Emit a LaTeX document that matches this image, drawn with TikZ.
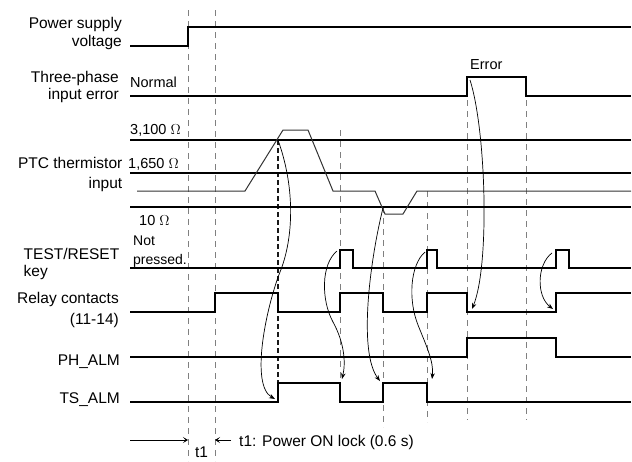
\documentclass[tikz,border=0pt]{standalone}
\usepackage{fontspec}
\setmainfont{Liberation Sans}
\usetikzlibrary{arrows.meta}

\begin{document}
\begin{tikzpicture}[x=1pt, y=-1pt,
    sig/.style={line width=1.6pt, line join=miter},
    thinsig/.style={line width=1pt, black!80},
    guide/.style={gray, line width=0.8pt, dash pattern=on 6pt off 5pt},
    guidebold/.style={black!90, line width=1.6pt, dash pattern=on 5pt off 3pt},
    cause/.style={line width=0.7pt, -{Stealth[length=6pt, width=4.5pt]}},
    timearrow/.style={line width=0.8pt, -{Stealth[length=5pt, width=6pt, inset=2.5pt]}},
    sname/.style={font=\fontsize{15.5}{18}\selectfont, align=right, anchor=base east, inner sep=0pt},
    sval/.style={font=\fontsize{14.5}{19}\selectfont, align=left, anchor=base west, inner sep=0pt}]
    \useasboundingbox (0,0) rectangle (632,461);

    % timing guides
    \draw[guide] (188,10) -- (188,461);
    \draw[guide] (215,10) -- (215,461);
    \draw[guide] (340,130) -- (340,383);
    \draw[guide] (383,207) -- (383,427);
    \draw[guide] (427,191) -- (427,422);
    \draw[guide] (467,100) -- (467,420);
    \draw[guide] (526,100) -- (526,420);
    \draw[guidebold] (278,140) -- (278,383);

    % signal names (anchored at last line)
    \node[sname] (psv) at (122,46.7) {Power supply\\[0.5pt]voltage};
    \node[sname] (tpi) at (119,99.5) {Three-phase\\[-0.5pt]input error};
    \node[sname] (ptc) at (122.5,188.5) {PTC thermistor\\[2.5pt]input};
    \node[sname, align=left] (key) at (119.5,276) {TEST/RESET\\[-1pt]key};
    \node[sname] (rly) at (119,324.5) {Relay contacts\\[3pt](11-14)};
    \node[sname] (phalm) at (120,365) {PH\_ALM};
    \node[sname] (tsalm) at (120,403) {TS\_ALM};

    % level labels
    \node[sval] (nrm) at (130,87) {Normal};
    \node[sval] (r3100) at (130,134) {3,100 $\Omega$};
    \node[sval] (r1650) at (128,168) {1,650 $\Omega$};
    \node[sval] (r10) at (139,225) {10 $\Omega$};
    \node[sval, font=\fontsize{14}{19}\selectfont] (npr) at (133,264) {Not\\pressed.};
    \node[sval] (err) at (470,69) {Error};

    % power supply
    \draw[sig] (130,46) -- (188,46) -- (188,27) -- (631,27);
    % three-phase input error
    \draw[sig] (130,96) -- (467,96) -- (467,77) -- (526,77) -- (526,96) -- (631,96);
    % PTC thresholds and input
    \draw[sig] (130,140) -- (631,140);
    \draw[sig] (130,173) -- (631,173);
    \draw[sig] (130,207) -- (631,207);
    \draw[thinsig] (137,191) -- (245,191) -- (283,130) -- (308,130) -- (333,191)
        -- (375,191) -- (385,214) -- (403,214) -- (417,191) -- (631,191);
    % TEST/RESET key
    \draw[sig] (130,268) -- (340,268) -- (340,250) -- (353,250) -- (353,268)
        -- (427,268) -- (427,250) -- (437,250) -- (437,268)
        -- (556,268) -- (556,250) -- (569,250) -- (569,268) -- (631,268);
    % relay contacts
    \draw[sig] (130,312) -- (215,312) -- (215,293) -- (278,293) -- (278,312)
        -- (340,312) -- (340,293) -- (383,293) -- (383,312)
        -- (427,312) -- (427,293) -- (467,293) -- (467,312)
        -- (556,312) -- (556,293) -- (631,293);
    % PH_ALM
    \draw[sig] (130,357) -- (467,357) -- (467,338) -- (556,338) -- (556,357) -- (631,357);
    % TS_ALM
    \draw[sig] (130,402) -- (278,402) -- (278,383) -- (340,383) -- (340,402)
        -- (383,402) -- (383,383) -- (427,383) -- (427,402) -- (631,402);

    % cause -> effect
    \coordinate (hiA) at (278,140);
    \coordinate (tsA) at (275,399);
    \coordinate (keyA) at (337,251);
    \coordinate (tsB) at (342,379);
    \coordinate (loA) at (383,208);
    \coordinate (tsC) at (380,381);
    \coordinate (keyB) at (425,252);
    \coordinate (tsD) at (432,379);
    \coordinate (errA) at (470,80);
    \coordinate (rlyA) at (472,309);
    \coordinate (keyC) at (552,253);
    \coordinate (rlyB) at (553,309);

    \draw[cause] (hiA) .. controls (296,190) and (293,240) .. (280,272)
        .. controls (266,308) and (250,385) .. (tsA);
    \draw[cause] (keyA) .. controls (321,264) and (321,300) .. (333,322)
        .. controls (344,342) and (346,362) .. (tsB);
    \draw[cause] (loA) .. controls (370,260) and (358,352) .. (tsC);
    \draw[cause] (keyB) .. controls (410,265) and (408,300) .. (418,325)
        .. controls (426,345) and (434,362) .. (tsD);
    \draw[cause] (errA) .. controls (486,130) and (490,265) .. (rlyA);
    \draw[cause] (keyC) .. controls (537,264) and (536,296) .. (rlyB);

    % power ON lock
    \coordinate (lockL) at (130,440);
    \coordinate (lockA) at (188,440);
    \coordinate (lockR) at (231,440);
    \coordinate (lockB) at (215,440);
    \draw[timearrow] (lockL) -- (lockA);
    \draw[timearrow] (lockR) -- (lockB);
    \node[sname, anchor=base west] (lock) at (239,446) {t1: Power ON lock (0.6 s)};
    \node[sname, anchor=base] (tone) at (201.5,457) {t1};
\end{tikzpicture}
\end{document}
